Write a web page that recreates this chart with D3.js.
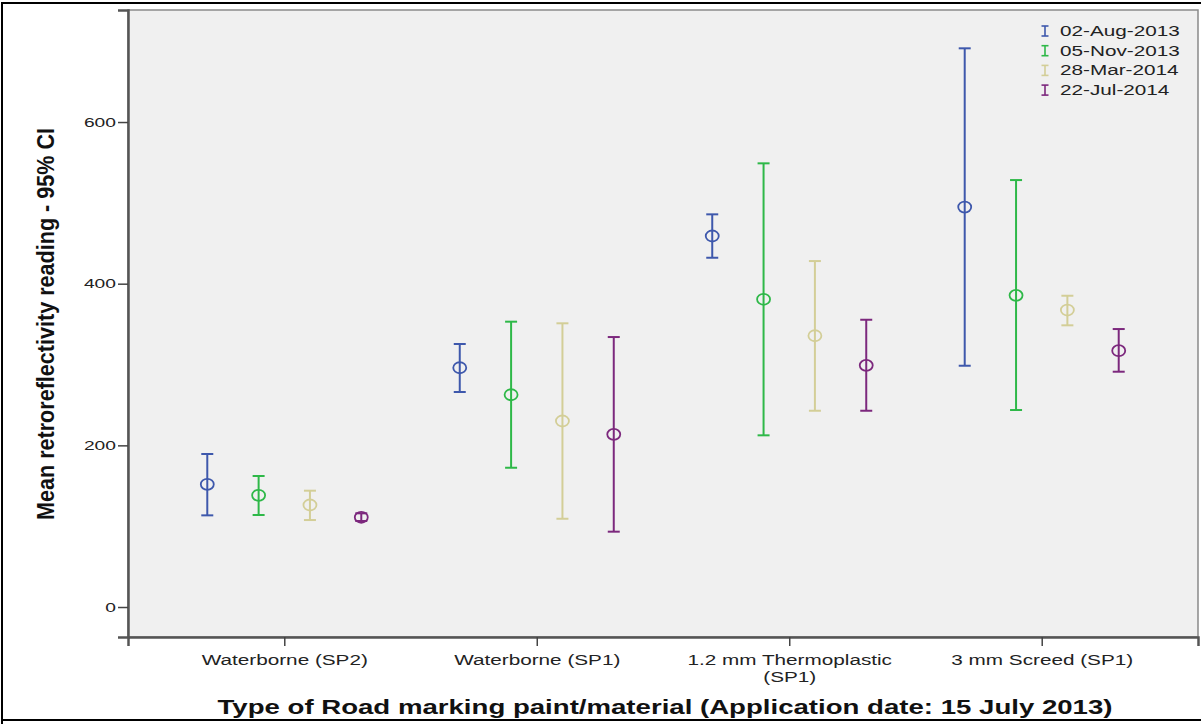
<!DOCTYPE html>
<html><head><meta charset="utf-8">
<script src="https://cdn.jsdelivr.net/npm/d3@7"></script>
<style>body{margin:0;background:#fff}svg{display:block}</style>
</head><body>
<svg id="c" width="1201" height="725"></svg>
<script>
const categories = ["Waterborne (SP2)", "Waterborne (SP1)", "1.2 mm Thermoplastic|(SP1)", "3 mm Screed (SP1)"];
const seriesNames = ["02-Aug-2013", "05-Nov-2013", "28-Mar-2014", "22-Jul-2014"];
const colors = ["#3E58AC", "#2EB848", "#D3CE97", "#7C287D"];
// mean, lower CI, upper CI per category
const aug2013Mean  = [151.8, 296.0, 459.0, 494.8];
const aug2013Low   = [113.4, 266.0, 432.1, 298.5];
const aug2013High  = [189.3, 325.4, 485.8, 691.2];
const nov2013Mean  = [138.2, 262.6, 380.7, 385.6];
const nov2013Low   = [113.8, 172.3, 212.4, 243.7];
const nov2013High  = [162.1, 353.0, 548.9, 528.2];
const mar2014Mean  = [126.2, 230.1, 335.6, 367.4];
const mar2014Low   = [107.6, 109.2, 242.8, 348.5];
const mar2014High  = [143.9, 351.0, 428.0, 385.1];
const jul2014Mean  = [111.0, 213.6, 299.0, 317.1];
const jul2014Low   = [106.4,  93.2, 242.8, 291.1];
const jul2014High  = [115.9, 334.0, 355.4, 343.9];
const yTicks = [0, 200, 400, 600];

const series = [
  {name: seriesNames[0], mean: aug2013Mean, low: aug2013Low, high: aug2013High},
  {name: seriesNames[1], mean: nov2013Mean, low: nov2013Low, high: nov2013High},
  {name: seriesNames[2], mean: mar2014Mean, low: mar2014Low, high: mar2014High},
  {name: seriesNames[3], mean: jul2014Mean, low: jul2014Low, high: jul2014High}
];

const FONT = "Liberation Sans, Arial, sans-serif";
const SX = 1.48; // horizontal stretch of the original picture

const svg = d3.select("#c");
const L = 128, R = 1198, T = 10, B = 637;

// outer frame
svg.append("path").attr("d", `M2,724 L2,3 L1201,3 M2,720 L1201,720`)
  .attr("fill","none").attr("stroke","#000").attr("stroke-width",2);

const x = d3.scalePoint().domain(categories).range([L, R]).padding(0.619);
const sub = d3.scalePoint().domain(seriesNames).range([-77, 77]);
const y = d3.scaleLinear().domain([-37.1, 738.6]).range([B, T]);

// plot background
svg.append("rect").attr("x", L).attr("y", T).attr("width", R - L).attr("height", B - T)
  .attr("fill", "#f0f0f0").attr("stroke", "#8a8a8a").attr("stroke-width", 1.5);

// axes
const yAxis = svg.append("g").attr("transform", `translate(${L},0)`)
  .call(d3.axisLeft(y).tickValues(yTicks).tickSize(10).tickPadding(2).tickFormat(d3.format("d")));
yAxis.select(".domain").attr("stroke", "#555").attr("stroke-width", 2.5);
yAxis.selectAll(".tick line").attr("stroke", "#444").attr("stroke-width", 1.5);
yAxis.selectAll(".tick text").each(function(){
  const t = d3.select(this);
  const tx = +t.attr("x");
  t.attr("x", null).attr("transform", `translate(${tx},0) scale(${SX},1)`);
}).attr("font-family", FONT).attr("font-size", 13).attr("fill", "#222");

const xAxis = svg.append("g").attr("transform", `translate(0,${B})`)
  .call(d3.axisBottom(x).tickSize(9).tickFormat(""));
xAxis.select(".domain").attr("stroke", "#555").attr("stroke-width", 2.5);
xAxis.selectAll(".tick line").attr("stroke", "#444").attr("stroke-width", 1.5);
xAxis.selectAll(".tick").each(function(d){
  const lines = d.split("|");
  const t = d3.select(this).append("text").attr("fill", "#222")
    .attr("font-family", FONT).attr("font-size", 14)
    .attr("text-anchor", "middle").attr("transform", `scale(${SX},1)`);
  lines.forEach((s, i) => t.append("tspan").attr("x", 0).attr("y", 28 + i * 17).text(s));
});

// error bars
const cap = 6;
series.forEach((s, si) => {
  const g = svg.append("g").attr("stroke", colors[si]).attr("fill", "none");
  categories.forEach((c, ci) => {
    const cx = x(c) + sub(s.name);
    g.append("line").attr("x1", cx).attr("x2", cx).attr("y1", y(s.low[ci])).attr("y2", y(s.high[ci])).attr("stroke-width", 2);
    g.append("line").attr("x1", cx - cap).attr("x2", cx + cap).attr("y1", y(s.low[ci])).attr("y2", y(s.low[ci])).attr("stroke-width", 2);
    g.append("line").attr("x1", cx - cap).attr("x2", cx + cap).attr("y1", y(s.high[ci])).attr("y2", y(s.high[ci])).attr("stroke-width", 2);
    g.append("ellipse").attr("cx", cx).attr("cy", y(s.mean[ci])).attr("rx", 6.5).attr("ry", 5.5).attr("stroke-width", 1.8);
  });
});

// legend
const leg = svg.append("g");
seriesNames.forEach((n, i) => {
  const ly = 31 + i * 19.7;
  const lx = 1045;
  const g = leg.append("g").attr("stroke", colors[i]).attr("stroke-width", 1.6);
  g.append("line").attr("x1", lx).attr("x2", lx).attr("y1", ly - 5).attr("y2", ly + 5);
  g.append("line").attr("x1", lx - 3.5).attr("x2", lx + 3.5).attr("y1", ly - 5).attr("y2", ly - 5);
  g.append("line").attr("x1", lx - 3.5).attr("x2", lx + 3.5).attr("y1", ly + 5).attr("y2", ly + 5);
  leg.append("text").attr("transform", `translate(1060,${ly + 5}) scale(${SX},1)`).text(n)
    .attr("font-family", FONT).attr("font-size", 14).attr("fill", "#222");
});

// axis titles
svg.append("text").attr("transform", "translate(54,324) rotate(-90)").attr("text-anchor", "middle")
  .attr("font-family", FONT)
  .attr("font-weight", "bold").attr("font-size", 24).attr("fill", "#111")
  .attr("textLength", 392).attr("lengthAdjust", "spacingAndGlyphs")
  .text("Mean retroreflectivity reading - 95% CI");
svg.append("text").attr("x", 665).attr("y", 714).attr("text-anchor", "middle")
  .attr("font-family", FONT)
  .attr("font-weight", "bold").attr("font-size", 20).attr("fill", "#111")
  .attr("textLength", 895).attr("lengthAdjust", "spacingAndGlyphs")
  .text("Type of Road marking paint/material (Application date: 15 July 2013)");
</script>
</body></html>
